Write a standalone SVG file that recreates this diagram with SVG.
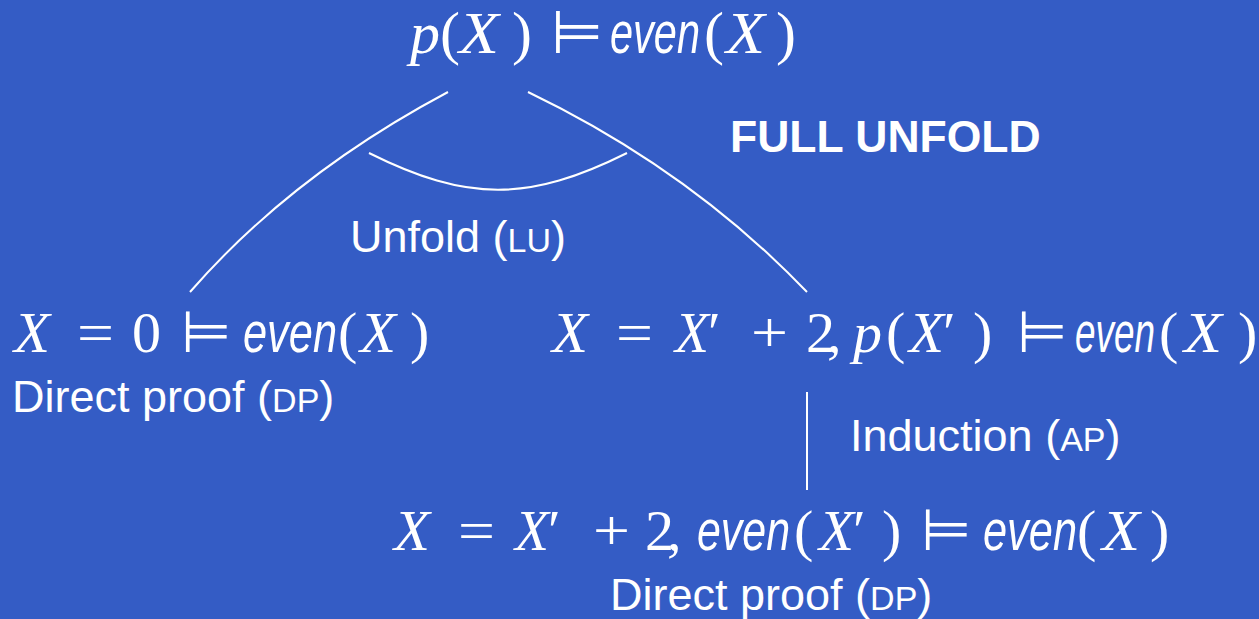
<svg xmlns="http://www.w3.org/2000/svg" width="1259" height="619" viewBox="0 0 1259 619">
<style>
.m{font-family:"Liberation Serif",serif;fill:#fff}
.i{font-style:italic}
.s{font-family:"Liberation Sans",sans-serif;font-style:italic}
.mo{font-family:"DejaVu Sans",sans-serif}
.t{font-family:"Liberation Sans",sans-serif;fill:#fff;font-size:45px}
.sc{font-size:34px}
.b{font-family:"Liberation Sans",sans-serif;fill:#fff;font-size:44.5px;font-weight:bold}
.c{fill:none;stroke:#fff;stroke-width:2}
</style>
<rect width="1259" height="619" fill="#345CC5"/>
<g id="connectors">
<path class="c" d="M448,92 Q292,175 190,292"/>
<path class="c" d="M528,92 Q690,170 807,292"/>
<path class="c" d="M369,153 C467,202 529,202 627,153"/>
<line class="c" x1="807" y1="392" x2="807" y2="490"/>
</g>
<g id="root">
<text class="m" font-size="60" y="53"><tspan class="i" x="410">p</tspan><tspan x="440">(</tspan><tspan class="i" x="459" textLength="40" lengthAdjust="spacingAndGlyphs">X</tspan><tspan x="512">)</tspan><tspan class="mo" x="551">⊨</tspan><tspan class="s" x="610" textLength="90" lengthAdjust="spacingAndGlyphs">even</tspan><tspan x="704">(</tspan><tspan class="i" x="726" textLength="39" lengthAdjust="spacingAndGlyphs">X</tspan><tspan x="776">)</tspan></text>
</g>
<g id="label-full">
<text class="b" x="730" y="152">FULL UNFOLD</text>
</g>
<g id="label-unfold">
<text class="t" x="350" y="252" font-size="46">Unfold (<tspan class="sc">LU</tspan>)</text>
</g>
<g id="base">
<text class="m" font-size="58" y="352"><tspan class="i" x="14" textLength="36" lengthAdjust="spacingAndGlyphs">X</tspan><tspan x="77" textLength="37" lengthAdjust="spacingAndGlyphs">=</tspan><tspan x="132">0</tspan><tspan class="mo" x="181">⊨</tspan><tspan class="s" x="243" textLength="94" lengthAdjust="spacingAndGlyphs">even</tspan><tspan x="338">(</tspan><tspan class="i" x="360" textLength="36" lengthAdjust="spacingAndGlyphs">X</tspan><tspan x="410">)</tspan></text>
<text class="t" x="12" y="412">Direct proof (<tspan class="sc">DP</tspan>)</text>
</g>
<g id="step">
<text class="m" font-size="58" y="352"><tspan class="i" x="552" textLength="36" lengthAdjust="spacingAndGlyphs">X</tspan><tspan x="616" textLength="37" lengthAdjust="spacingAndGlyphs">=</tspan><tspan class="i" x="675" textLength="34" lengthAdjust="spacingAndGlyphs">X</tspan><tspan x="708">′</tspan><tspan x="751" textLength="37" lengthAdjust="spacingAndGlyphs">+</tspan><tspan x="806">2</tspan><tspan x="827">,</tspan><tspan class="i" x="853">p</tspan><tspan x="886">(</tspan><tspan class="i" x="909" textLength="35" lengthAdjust="spacingAndGlyphs">X</tspan><tspan x="943">′</tspan><tspan x="973">)</tspan><tspan class="mo" x="1017">⊨</tspan><tspan class="s" x="1075" textLength="80" lengthAdjust="spacingAndGlyphs">even</tspan><tspan x="1159">(</tspan><tspan class="i" x="1184" textLength="38" lengthAdjust="spacingAndGlyphs">X</tspan><tspan x="1238">)</tspan></text>
</g>
<g id="label-induction">
<text class="t" x="850" y="451" font-size="46">Induction (<tspan class="sc">AP</tspan>)</text>
</g>
<g id="leaf">
<text class="m" font-size="58" y="550"><tspan class="i" x="394" textLength="36" lengthAdjust="spacingAndGlyphs">X</tspan><tspan x="458" textLength="37" lengthAdjust="spacingAndGlyphs">=</tspan><tspan class="i" x="515" textLength="34" lengthAdjust="spacingAndGlyphs">X</tspan><tspan x="548">′</tspan><tspan x="593" textLength="37" lengthAdjust="spacingAndGlyphs">+</tspan><tspan x="645">2</tspan><tspan x="667">,</tspan><tspan class="s" x="697" textLength="93" lengthAdjust="spacingAndGlyphs">even</tspan><tspan x="794">(</tspan><tspan class="i" x="819" textLength="35" lengthAdjust="spacingAndGlyphs">X</tspan><tspan x="853">′</tspan><tspan x="882">)</tspan><tspan class="mo" x="921">⊨</tspan><tspan class="s" x="983" textLength="94" lengthAdjust="spacingAndGlyphs">even</tspan><tspan x="1077">(</tspan><tspan class="i" x="1102" textLength="38" lengthAdjust="spacingAndGlyphs">X</tspan><tspan x="1150">)</tspan></text>
<text class="t" x="610" y="610">Direct proof (<tspan class="sc">DP</tspan>)</text>
</g>
</svg>
